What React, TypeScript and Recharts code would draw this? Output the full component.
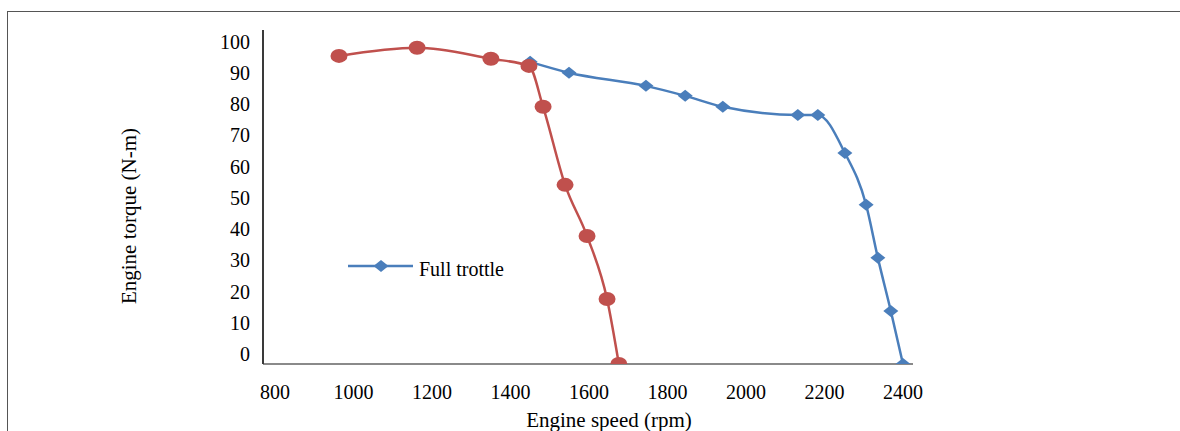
import React from 'react';
import { LineChart, Line, XAxis, YAxis } from 'recharts';

const xTicks = [800, 1000, 1200, 1400, 1600, 1800, 2000, 2200, 2400];
const yTicks = [0, 10, 20, 30, 40, 50, 60, 70, 80, 90, 100];

const fullRpm = [1450, 1549, 1745, 1845, 1941, 2132, 2183, 2252, 2306, 2336, 2369, 2400];
const fullTorque = [96.8, 93.3, 89.1, 85.9, 82.4, 79.8, 79.8, 67.6, 51.0, 34.0, 17.0, 0];

const partRpm = [963, 1162, 1350, 1447, 1483, 1539, 1595, 1646, 1676];
const partTorque = [98.7, 101.3, 97.8, 95.5, 82.4, 57.4, 41.0, 20.8, 0];

const fullData = fullRpm.map((rpm, i) => ({ rpm, torque: fullTorque[i] }));
const partData = partRpm.map((rpm, i) => ({ rpm, torque: partTorque[i] }));

const BLUE = '#4A7EBB';
const RED = '#C0504D';
const FONT = '"Liberation Serif", "Times New Roman", serif';

const Diamond = (props: any) => {
  const { cx, cy, index } = props;
  if (cx == null || cy == null) return null;
  return (
    <polygon
      key={`d-${index}`}
      points={`${cx},${cy - 6} ${cx + 7.5},${cy} ${cx},${cy + 6} ${cx - 7.5},${cy}`}
      fill={BLUE}
    />
  );
};

const Oval = (props: any) => {
  const { cx, cy, index } = props;
  if (cx == null || cy == null) return null;
  return <ellipse key={`o-${index}`} cx={cx} cy={cy} rx={8.5} ry={7} fill={RED} />;
};

const YTick = (props: any) => {
  const { x, y, payload } = props;
  return (
    <text x={x} y={y - 10} dy="0.35em" textAnchor="end" fontFamily={FONT} fontSize={20} fill="#000">
      {payload.value}
    </text>
  );
};

const XTick = (props: any) => {
  const { x, y, payload } = props;
  return (
    <text x={x} y={y} dy="0.71em" textAnchor="middle" fontFamily={FONT} fontSize={20} fill="#000">
      {payload.value}
    </text>
  );
};

export default function App() {
  return (
    <div style={{ position: 'absolute', left: 0, top: 0, width: 1180, height: 431, background: '#fff', overflow: 'hidden' }}>
      <div
        style={{
          position: 'absolute',
          left: 7,
          top: 11,
          width: 1180,
          height: 430,
          borderTop: '1px solid #555',
          borderLeft: '1px solid #555',
        }}
      />
      <div style={{ position: 'absolute', left: 0, top: 0 }}>
        <LineChart width={1180} height={431} margin={{ top: 30, right: 267, bottom: 27, left: 203 }}>
          <XAxis
            type="number"
            dataKey="rpm"
            domain={[769.4, 2425.5]}
            ticks={xTicks}
            allowDataOverflow
            height={40}
            tickLine={false}
            tickSize={0}
            tickMargin={21}
            axisLine={{ stroke: '#8a8a8a', strokeWidth: 2 }}
            tick={<XTick />}
            label={{
              content: () => (
                <text x={609} y={427} textAnchor="middle" fontFamily={FONT} fontSize={21} fill="#000">
                  Engine speed (rpm)
                </text>
              ),
            }}
          />
          <YAxis
            type="number"
            dataKey="torque"
            domain={[0, 107]}
            ticks={yTicks}
            allowDataOverflow
            width={60}
            tickLine={false}
            tickSize={0}
            tickMargin={13}
            axisLine={{ stroke: '#3a3a3a', strokeWidth: 2 }}
            tick={<YTick />}
            label={{
              content: () => (
                <text
                  x={129}
                  y={216}
                  transform="rotate(-90 129 216)"
                  textAnchor="middle"
                  dominantBaseline="central"
                  fontFamily={FONT}
                  fontSize={21}
                  fill="#000"
                >
                  Engine torque (N-m)
                </text>
              ),
            }}
          />
          <Line
            data={fullData}
            dataKey="torque"
            type="monotone"
            stroke={BLUE}
            strokeWidth={2.5}
            dot={Diamond}
            activeDot={false}
            isAnimationActive={false}
            name="Full trottle"
          />
          <Line
            data={partData}
            dataKey="torque"
            type="monotone"
            stroke={RED}
            strokeWidth={2.5}
            dot={Oval}
            activeDot={false}
            isAnimationActive={false}
            legendType="none"
          />
        </LineChart>
      </div>
      <div style={{ position: 'absolute', left: 348, top: 255, display: 'flex', alignItems: 'center', height: 22 }}>
        <svg width={66} height={22} style={{ display: 'block' }}>
          <line x1={0} y1={11} x2={65} y2={11} stroke={BLUE} strokeWidth={2.5} />
          <polygon points="33,5 40.5,11 33,17 25.5,11" fill={BLUE} />
        </svg>
        <span style={{ fontFamily: FONT, fontSize: 20, color: '#000', marginLeft: 5, lineHeight: '22px', position: 'relative', top: 3 }}>
          Full trottle
        </span>
      </div>
    </div>
  );
}
